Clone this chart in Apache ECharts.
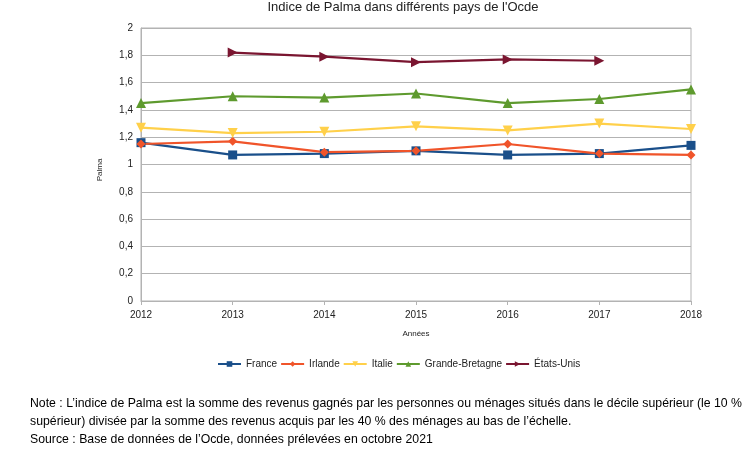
<!DOCTYPE html>
<html><head><meta charset="utf-8">
<script src="https://cdn.jsdelivr.net/npm/echarts@6/dist/echarts.min.js"></script>
<style>html,body{margin:0;padding:0;background:#fff}#c{width:751px;height:457px}</style>
</head><body><div id="c"></div>
<script>
var years = ['2012','2013','2014','2015','2016','2017','2018'];
var france = [1.16, 1.07, 1.08, 1.10, 1.07, 1.08, 1.14];
var irlande = [1.15, 1.17, 1.09, 1.10, 1.15, 1.08, 1.07];
var italie = [1.27, 1.23, 1.24, 1.28, 1.25, 1.30, 1.26];
var grandeBretagne = [1.45, 1.50, 1.49, 1.52, 1.45, 1.48, 1.55];
var etatsUnis = [null, 1.82, 1.79, 1.75, 1.77, 1.76, null];
var seriesNames = ['France','Irlande','Italie','Grande-Bretagne','États-Unis'];
var noteLines = [
  'Note : L’indice de Palma est la somme des revenus gagnés par les personnes ou ménages situés dans le décile supérieur (le 10 %',
  'supérieur) divisée par la somme des revenus acquis par les 40 % des ménages au bas de l’échelle.',
  'Source : Base de données de l’Ocde, données prélevées en octobre 2021'
];
var colors = ['#1a4f8a','#f0542a','#ffd04a','#5e9a2e','#7a1530'];
var symbols = ['rect','diamond','triangle','triangle','triangle'];
var rotations = [0,0,180,0,-90];
var seriesData = [france, irlande, italie, grandeBretagne, etatsUnis];

var noteFont = '13px "Liberation Sans"';
var cv = document.createElement('canvas').getContext('2d');
cv.font = noteFont;
var sx = 712 / cv.measureText(noteLines[0]).width;

var chart = echarts.init(document.getElementById('c'));
var font = 'Liberation Sans';
var graphics = noteLines.map(function(t,i){
  return {type:'text', x:30, y:397+18*i, scaleX:sx, style:{text:t, font:noteFont, fill:'#000'}};
});
graphics.push({type:'text', x:100, y:170, rotation:Math.PI/2,
  style:{text:'Palma', font:'8px "Liberation Sans"', fill:'#222', align:'center', verticalAlign:'middle'}});
chart.setOption({
  animation:false,
  title:{text:'Indice de Palma dans différents pays de l\'Ocde', left:398, top:-4, textAlign:'center',
    textStyle:{fontFamily:font, fontSize:13, fontWeight:'normal', color:'#222'}},
  grid:{left:141, right:60, top:28, bottom:156, show:true, borderColor:'#b3b3b3', borderWidth:1},
  legend:{data:seriesNames, top:359, left:217, padding:0, itemWidth:23, itemHeight:7, itemGap:3,
    textStyle:{fontFamily:font, fontSize:10, color:'#222'}},
  xAxis:{type:'category', data:years, boundaryGap:false, name:'Années', nameLocation:'middle', nameGap:29,
    nameTextStyle:{fontFamily:font, fontSize:8, color:'#222'},
    axisLine:{lineStyle:{color:'#b3b3b3'}}, axisTick:{show:true, length:4, lineStyle:{color:'#b3b3b3'}},
    axisLabel:{fontFamily:font, fontSize:10, color:'#222', margin:9},
    splitLine:{show:false}},
  yAxis:{type:'value', min:0, max:2, interval:0.2,
    axisLine:{show:true, lineStyle:{color:'#b3b3b3'}}, axisTick:{show:false},
    axisLabel:{fontFamily:font, fontSize:10, color:'#222', margin:8,
      formatter:function(v){return String(Math.round(v*10)/10).replace('.',',');}},
    splitLine:{lineStyle:{color:'#b3b3b3', width:1}}},
  series: seriesNames.map(function(n,i){
    return {name:n, type:'line', data:seriesData[i], symbol:symbols[i], symbolRotate:rotations[i],
      symbolSize: i===0?9:(i===1?9:10), showAllSymbol:true, connectNulls:false,
      lineStyle:{color:colors[i], width:2.2}, itemStyle:{color:colors[i]}};
  }),
  graphic: graphics
});
</script></body></html>
